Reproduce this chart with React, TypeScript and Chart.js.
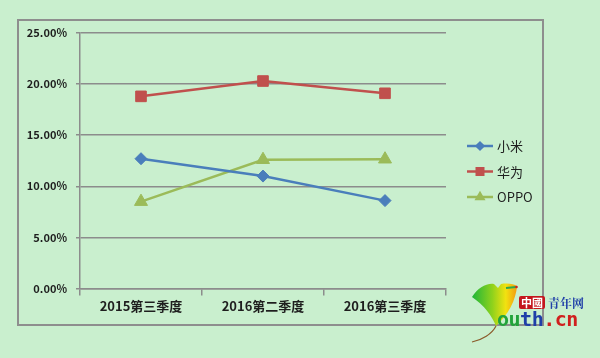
import React, { useEffect, useRef } from 'react';
import { Chart, registerables } from 'chart.js';

Chart.register(...registerables);

const categories = ['2015第三季度', '2016第二季度', '2016第三季度'];
const seriesNames = ['小米', '华为', 'OPPO'];
const xiaomi = [12.7, 11.0, 8.6];
const huawei = [18.8, 20.3, 19.1];
const oppo = [8.5, 12.6, 12.65];
const seriesColors = ['#4A7EBB', '#C0504D', '#9BBB59'];
const pointStyles = ['rectRot', 'rect', 'triangle'];
const pointSizes = [6, 7.5, 7.5];
const yMin = 0;
const yMax = 25;
const yStep = 5;

const BG = '#C9EFCE';
const GRID = '#8C8C8C';
const TEXT = '#1E1E1E';
const CJK = '"Noto Sans CJK SC", "Noto Sans", sans-serif';

const framePlugin = {
  id: 'frame',
  beforeDraw(chart: any) {
    const { ctx } = chart;
    ctx.save();
    ctx.fillStyle = BG;
    ctx.fillRect(0, 0, chart.width, chart.height);
    ctx.strokeStyle = '#8E8E8E';
    ctx.lineWidth = 2;
    ctx.strokeRect(18, 20, 525, 305);
    ctx.restore();
  },
};

function drawMarker(ctx: CanvasRenderingContext2D, style: string, x: number, y: number, r: number) {
  ctx.beginPath();
  if (style === 'rect') {
    const s = r * Math.SQRT1_2;
    ctx.rect(x - s, y - s, 2 * s, 2 * s);
  } else if (style === 'rectRot') {
    ctx.moveTo(x, y - r);
    ctx.lineTo(x + r, y);
    ctx.lineTo(x, y + r);
    ctx.lineTo(x - r, y);
    ctx.closePath();
  } else {
    ctx.moveTo(x, y - r);
    ctx.lineTo(x + r * 0.866, y + r * 0.5);
    ctx.lineTo(x - r * 0.866, y + r * 0.5);
    ctx.closePath();
  }
  ctx.fill();
}

const legendPlugin = {
  id: 'customLegend',
  afterDraw(chart: any) {
    const { ctx } = chart;
    const x0 = 467;
    const x1 = 493;
    const top = 146;
    const gap = 25.5;
    ctx.save();
    chart.data.datasets.forEach((ds: any, i: number) => {
      const y = top + i * gap;
      ctx.strokeStyle = ds.borderColor;
      ctx.lineWidth = 2.5;
      ctx.beginPath();
      ctx.moveTo(x0, y);
      ctx.lineTo(x1, y);
      ctx.stroke();
      ctx.fillStyle = ds.backgroundColor;
      drawMarker(ctx, ds.pointStyle, (x0 + x1) / 2, y, ds.pointRadius * 0.85);
      ctx.fillStyle = TEXT;
      ctx.font = `13px ${CJK}`;
      ctx.textBaseline = 'middle';
      ctx.textAlign = 'left';
      ctx.fillText(ds.label, 497, y + 0.5);
    });
    ctx.restore();
  },
};

export default function App() {
  const ref = useRef<HTMLCanvasElement | null>(null);

  useEffect(() => {
    if (!ref.current) return;
    const values = [xiaomi, huawei, oppo];
    const chart = new Chart(ref.current, {
      type: 'line',
      data: {
        labels: categories,
        datasets: seriesNames.map((name, i) => ({
          label: name,
          data: values[i],
          borderColor: seriesColors[i],
          backgroundColor: seriesColors[i],
          borderWidth: 2.5,
          pointStyle: pointStyles[i] as any,
          pointRadius: pointSizes[i],
          pointHoverRadius: pointSizes[i],
          pointBorderWidth: 1,
          tension: 0,
        })),
      },
      options: {
        animation: false,
        responsive: false,
        maintainAspectRatio: false,
        devicePixelRatio: 1,
        layout: { padding: { left: 20, top: 33, right: 154, bottom: 33 } },
        plugins: {
          legend: { display: false },
          tooltip: { enabled: false },
        },
        scales: {
          x: {
            type: 'category',
            offset: true,
            grid: {
              offset: true,
              drawOnChartArea: false,
              drawTicks: true,
              tickLength: 7,
              color: GRID,
              lineWidth: 1.5,
            },
            border: { display: true, color: GRID, width: 1.5 },
            ticks: {
              color: TEXT,
              font: { family: CJK, size: 13, weight: 'bold' },
              padding: 3,
              maxRotation: 0,
              autoSkip: false,
            },
            afterFit: (s: any) => {
              s.height = 36.5;
            },
          },
          y: {
            min: yMin,
            max: yMax,
            ticks: {
              stepSize: yStep,
              color: TEXT,
              font: { family: CJK, size: 11, weight: 'bold' },
              padding: 9,
              callback: (v: any) => Number(v).toFixed(2) + '%',
            },
            grid: {
              color: GRID,
              lineWidth: 1.5,
              tickLength: 4,
              drawTicks: true,
            },
            border: { display: true, color: GRID, width: 1.5 },
            afterFit: (s: any) => {
              s.width = 60;
            },
          },
        },
      },
      plugins: [framePlugin, legendPlugin],
    });
    return () => chart.destroy();
  }, []);

  return (
    <div
      style={{
        position: 'fixed',
        left: 0,
        top: 0,
        width: 600,
        height: 358,
        background: BG,
        overflow: 'hidden',
      }}
    >
      <canvas ref={ref} width={600} height={358} style={{ display: 'block', width: 600, height: 358 }} />
      <svg
        width={60}
        height={66}
        viewBox="0 0 60 66"
        style={{ position: 'absolute', left: 468, top: 280 }}
      >
        <defs>
          <linearGradient id="leafGrad" x1="0" y1="0" x2="1" y2="0">
            <stop offset="0" stopColor="#1DB53A" />
            <stop offset="0.45" stopColor="#8FD21C" />
            <stop offset="0.75" stopColor="#F2E210" />
            <stop offset="1" stopColor="#F39A12" />
          </linearGradient>
        </defs>
        <path
          d="M4 17 C 10 8, 18 3, 26 4 L 30 8 L 33 4 C 40 3, 46 4, 49 6 C 48 20, 40 35, 28 46 C 24 36, 16 25, 4 17 Z"
          fill="url(#leafGrad)"
        />
        <path d="M28 46 C 24 54, 14 60, 4 62" stroke="#8A5A2A" strokeWidth={1.2} fill="none" />
        <path d="M38 8 L 48 7" stroke="#2EA84A" strokeWidth={2} />
        <circle cx={48.5} cy={7} r={1.3} fill="#D32020" />
      </svg>
      <div
        style={{
          position: 'absolute',
          left: 519,
          top: 296,
          height: 13,
          padding: '0 2px',
          background: '#C4161C',
          color: '#FFFFFF',
          font: `bold 11px ${CJK}`,
          lineHeight: '13px',
          borderRadius: 2,
        }}
      >
        中國
      </div>
      <div
        style={{
          position: 'absolute',
          left: 548,
          top: 295,
          color: '#1F3FA8',
          font: `bold 12px "Noto Serif CJK SC", ${CJK}`,
          lineHeight: '15px',
        }}
      >
        青年网
      </div>
      <div
        style={{
          position: 'absolute',
          left: 497,
          top: 308,
          font: 'bold 20px "DejaVu Sans Mono", monospace',
          lineHeight: '22px',
          letterSpacing: '-0.5px',
        }}
      >
        <span style={{ color: '#22A33A' }}>ou</span>
        <span style={{ color: '#1F3FA8' }}>th</span>
        <span style={{ color: '#D0201E' }}>.cn</span>
      </div>
    </div>
  );
}
